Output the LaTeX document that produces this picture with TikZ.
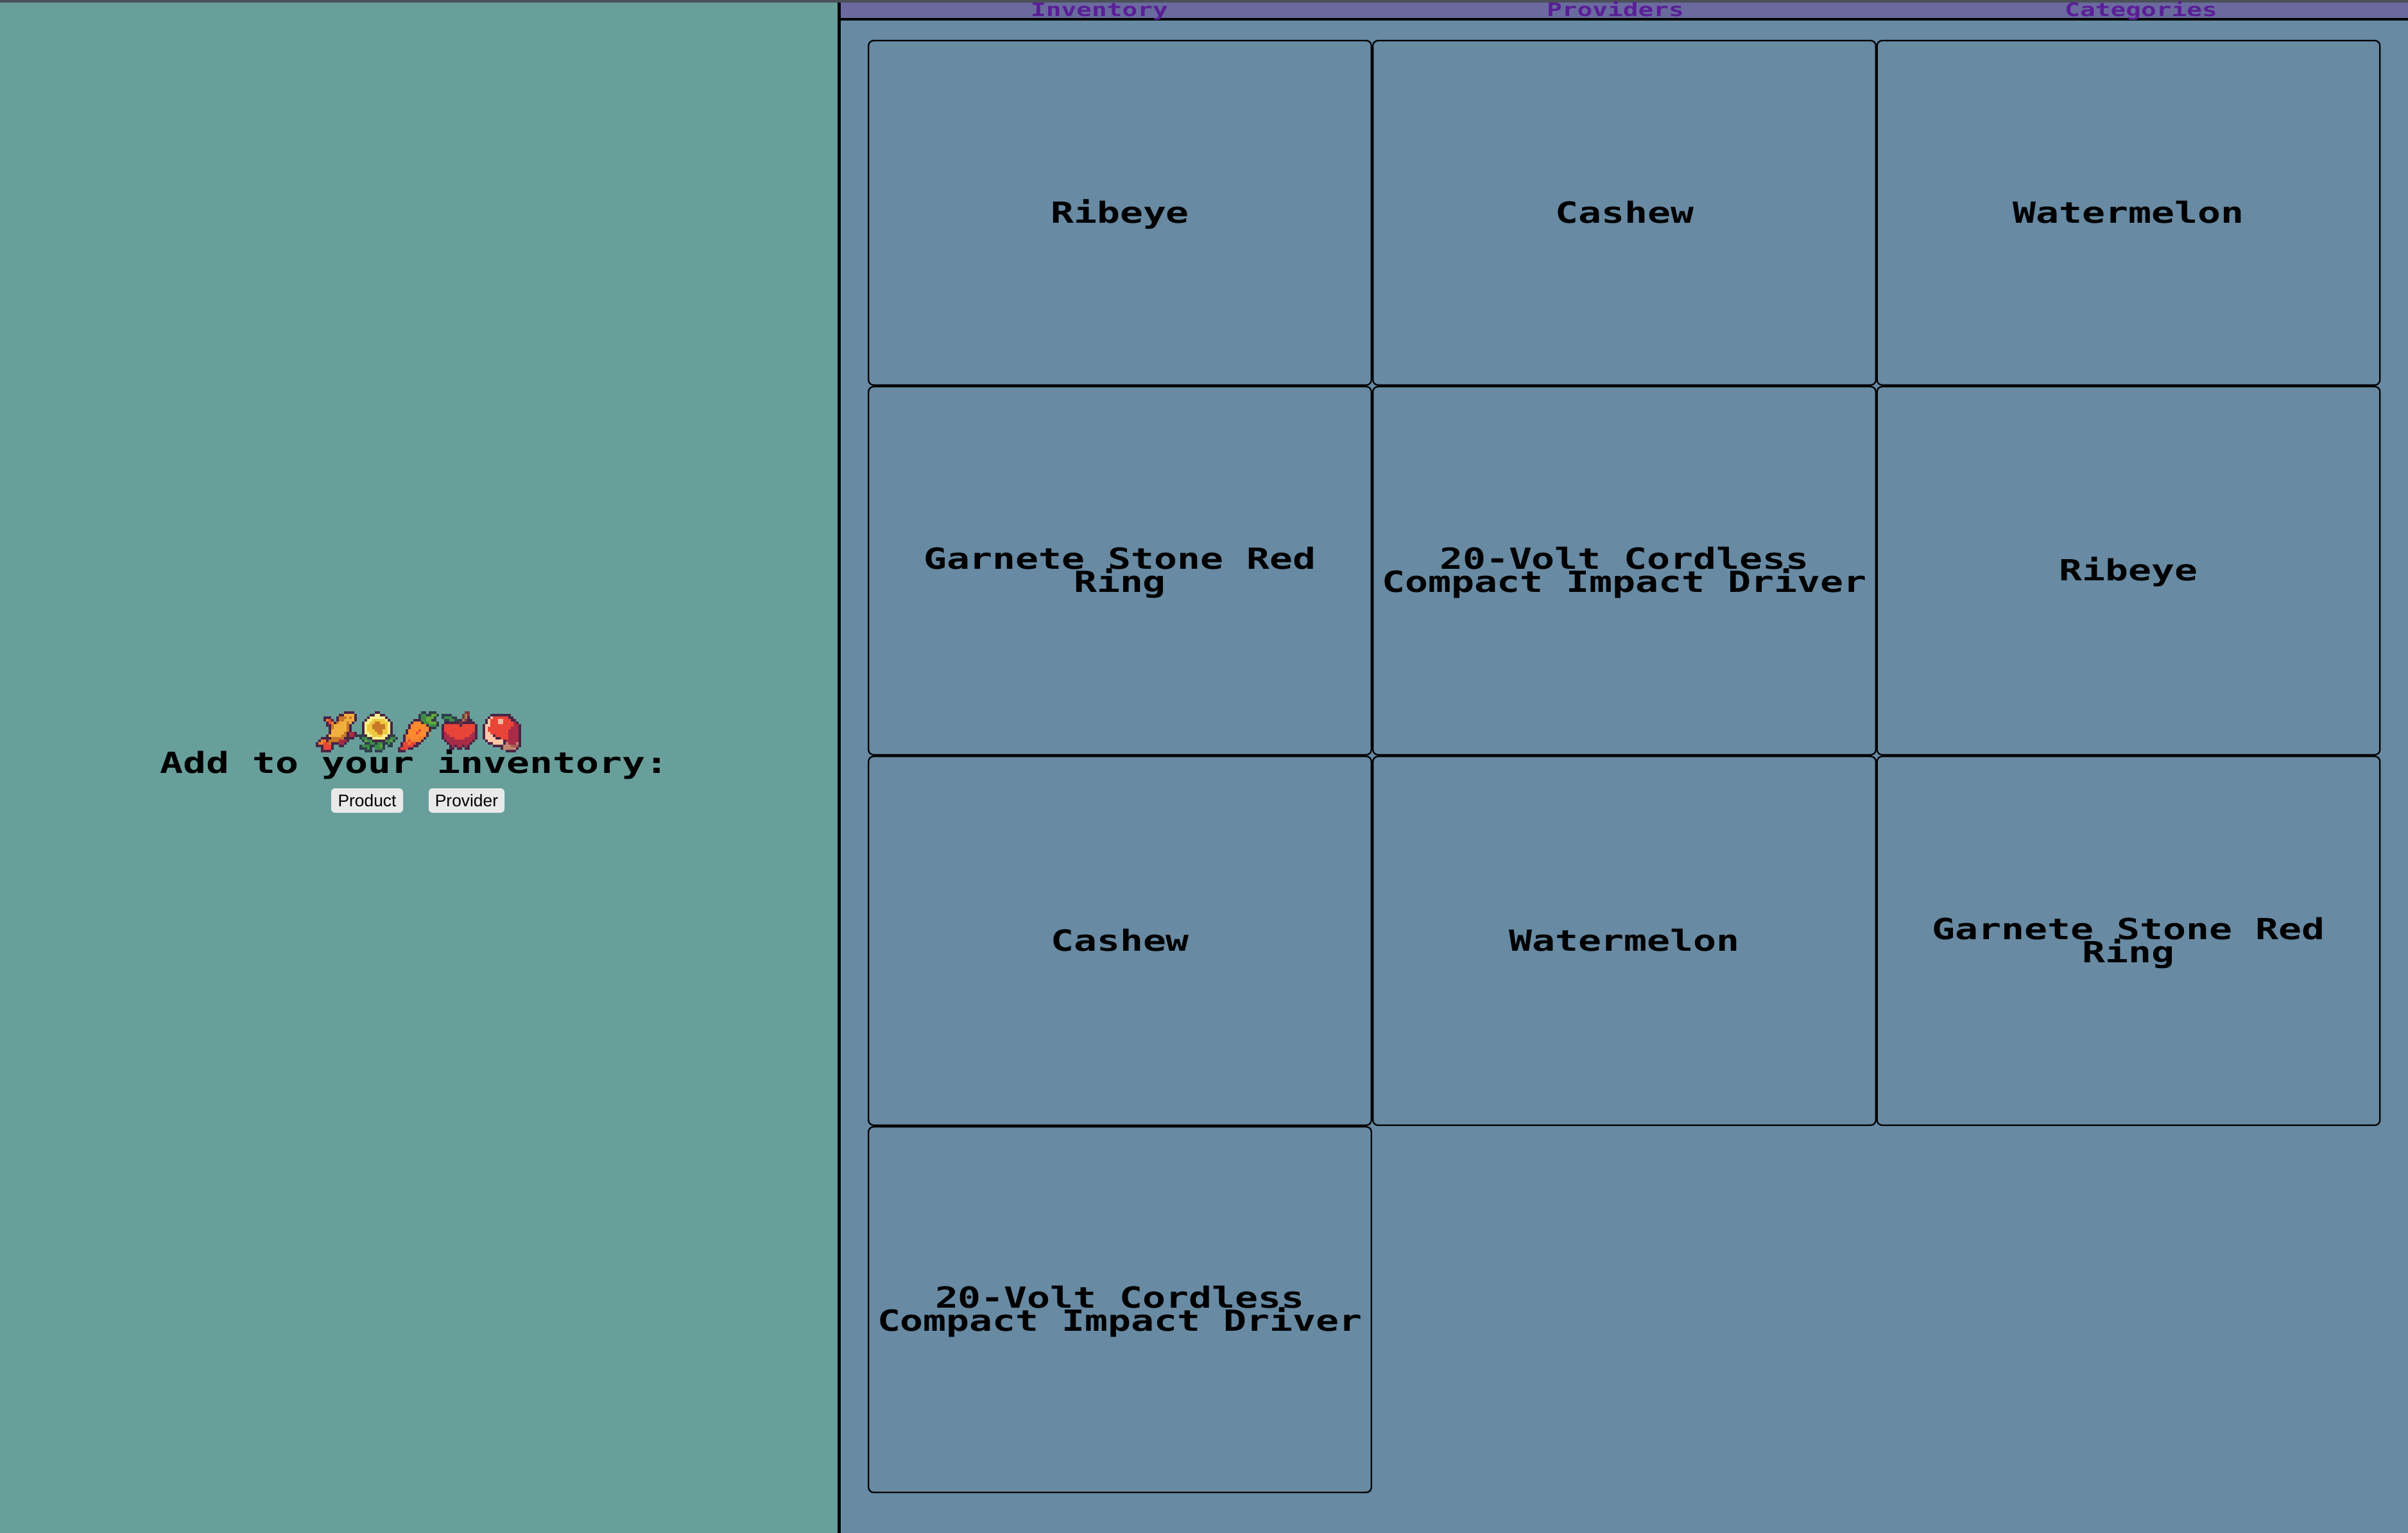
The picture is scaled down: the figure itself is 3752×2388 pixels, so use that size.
\documentclass[tikz,border=0pt]{standalone}
\usepackage{fontspec}
\setmainfont{Liberation Sans}
\newfontfamily\pixmain[FakeStretch=1.32]{DejaVu Sans Mono Bold}
\newfontfamily\pixhead[FakeStretch=1.37]{DejaVu Sans Mono Bold}
\definecolor{panelteal}{HTML}{689F9B}
\definecolor{panelblue}{HTML}{688AA3}
\definecolor{headerbar}{HTML}{6A6A9F}
\definecolor{headertext}{HTML}{5A1E96}
\definecolor{topband}{HTML}{4A5058}
\definecolor{buttonfill}{HTML}{E9E9E9}
\definecolor{sprD}{HTML}{4A2545}
\definecolor{sprT}{HTML}{2E3F4A}
\definecolor{sprO}{HTML}{F0B040}
\definecolor{spro}{HTML}{C87828}
\definecolor{sprR}{HTML}{E84538}
\definecolor{sprr}{HTML}{F08030}
\definecolor{sprM}{HTML}{A82C48}
\definecolor{sprY}{HTML}{F8F090}
\definecolor{spry}{HTML}{F0C840}
\definecolor{sprG}{HTML}{3E8948}
\definecolor{sprg}{HTML}{63A83C}
\definecolor{sprC}{HTML}{FE8A2E}
\definecolor{sprB}{HTML}{733E39}
\definecolor{sprb}{HTML}{B86F50}
\definecolor{sprP}{HTML}{FFC8A8}
\definecolor{sprL}{HTML}{F4B8A0}
\definecolor{sprS}{HTML}{C28570}
\definecolor{sprd}{HTML}{A05B53}
\newcount\pxc
\newcount\pyc
\def\prx#1{\ifx#1\relax\else\ifx#1.\else\fill[spr#1] (\the\numexpr\sprx+\pxc*4\relax,\the\numexpr\spry+\pyc*4\relax) rectangle ++(4.3,4.3);\fi\advance\pxc by 1 \expandafter\prx\fi}
\def\pr#1{\pxc=0 \prx#1\relax\advance\pyc by 1 }
\def\sprat#1#2{\def\sprx{#1}\def\spry{#2}\pyc=0 }
\def\cl#1{\rule[-0.3pt]{0pt}{6.9pt}\smash{#1}}
\tikzset{
  card/.style={draw=black,line width=0.46pt,rounded corners=1.6pt,fill=panelblue,inner sep=0pt,outer sep=0pt,
    minimum width=156.72pt,align=center,text=black,font=\pixmain\fontsize{9.06}{7.2}\selectfont},
  tab/.style={inner sep=0pt,outer sep=0pt,text=headertext,anchor=base,font=\pixhead\fontsize{5.76}{7}\selectfont},
  formbutton/.style={fill=buttonfill,rounded corners=1.2pt,inner sep=0pt,outer sep=0pt,minimum height=7.6pt,text=black,font=\fontsize{5.28}{6.3}\selectfont}
}
\begin{document}
\begin{tikzpicture}[x=0.2pt,y=-0.2pt]
\useasboundingbox (0,0) rectangle (3752,2388);
\fill[panelblue] (0,0) rectangle (3752,2388);
\fill[panelteal] (0,0) rectangle (1307,2388);
\fill[headerbar] (1307,0) rectangle (3752,28);
\fill[black] (1309,28) rectangle (3752,32);
\fill[topband] (0,0) rectangle (3752,4);
\fill[black] (1305,4) rectangle (1310,2388);
\node[tab] (tabinv) at (1713,25) {Inventory};
\node[tab] (tabprov) at (2517,25) {Providers};
\node[tab] (tabcat) at (3336,25) {Categories};
% cards
\node[card,minimum height=107.3pt] (c11) at (1745,331.5) {\cl{Ribeye}};
\node[card,minimum height=107.3pt] (c12) at (2531,331.5) {\cl{Cashew}};
\node[card,minimum height=107.3pt] (c13) at (3316.5,331.5) {\cl{Watermelon}};
\node[card,minimum height=114.7pt] (c21) at (1745,889) {\cl{Garnete Stone Red}\\\cl{Ring}};
\node[card,minimum height=114.7pt] (c22) at (2531,889) {\cl{20-Volt Cordless}\\\cl{Compact Impact Driver}};
\node[card,minimum height=114.7pt] (c23) at (3316.5,889) {\cl{Ribeye}};
\node[card,minimum height=114.9pt] (c31) at (1745,1465.5) {\cl{Cashew}};
\node[card,minimum height=114.9pt] (c32) at (2531,1465.5) {\cl{Watermelon}};
\node[card,minimum height=114.9pt] (c33) at (3316.5,1465.5) {\cl{Garnete Stone Red}\\\cl{Ring}};
\node[card,minimum height=113.9pt] (c41) at (1745,2040) {\cl{20-Volt Cordless}\\\cl{Compact Impact Driver}};
% left panel
\node[inner sep=0pt,outer sep=0pt,anchor=base,font=\pixmain\fontsize{9.06}{7.2}\selectfont] (addtitle) at (646,1204) {Add to your inventory:};
\node[formbutton,minimum width=22.4pt] (bproduct) at (572,1247) {Product};
\node[formbutton,minimum width=23.6pt] (bprovider) at (727,1247) {Provider};
% fish
\sprat{492}{1108}
\pr{...........DDDD.}
\pr{.........DDOOOOD}
\pr{...DDD..DoooOoOD}
\pr{...DrRD.DooOOOOD}
\pr{....DRrDoOOOoOD.}
\pr{....DDoOOOOOoD..}
\pr{.....DoOOOOOoD..}
\pr{.....DOOOOOOoD..}
\pr{.....DOOOOOoDMMD}
\pr{....DOOOOOooDMMD}
\pr{..DDDDoooooDDDD.}
\pr{.DrrDooooMMMD...}
\pr{DrrRRoDDDMMD....}
\pr{DDDRRRD..DD.....}
\pr{..DRRRD.........}
\pr{..DDDD..........}
% sunflower
\sprat{556}{1108}
\pr{.......DD.......}
\pr{.....DDYYDD.....}
\pr{....DYYYYYYD....}
\pr{...DYYyyyyyYD...}
\pr{..DYYyyooyyyYD..}
\pr{..DYyyoooooyYD..}
\pr{..DYyyoooooyYD..}
\pr{..DYyyyoooyyYD..}
\pr{..DYYyyyooyyYD..}
\pr{TTTDYYyyyyYYDTT.}
\pr{.TGGTDYYYYYDTGGT}
\pr{..TgGGDDDDDGGgT.}
\pr{...TTGGTGGTTGT..}
\pr{.TGGGTTGGgT.TT..}
\pr{.TTTGT.GGGT.....}
\pr{...TTT.TTT......}
% carrot
\sprat{620}{1108}
\pr{.........TT.TTT.}
\pr{........TGGTTggT}
\pr{........TGGgggT.}
\pr{......DDDGGggTT.}
\pr{.....DCCCDGGgggT}
\pr{....DCCCCCCDGGGT}
\pr{....DCCCCCCCDTT.}
\pr{...DCCCCRCCCD...}
\pr{...DCCCRCCCD....}
\pr{..DrCCCCCCCD....}
\pr{..DrrCCCrCD.....}
\pr{..DrRrrrrD......}
\pr{.DRRrRRDD.......}
\pr{.DRRRRDD........}
\pr{DRRRDD..........}
\pr{DDD.............}
% apple
\sprat{684}{1108}
\pr{..........BB....}
\pr{.TTTT....BbB....}
\pr{.TGGGTT..BbD....}
\pr{..TTGGTTDbBDD...}
\pr{..DDDDDDBDDDDD..}
\pr{.DRRRRRRDRRRRRD.}
\pr{.DRRRRRRRRRRRRD.}
\pr{.DRRRRRRRRRRRRD.}
\pr{.DMRRRRRRRRRRMD.}
\pr{.DMMRRRRRRRRMMD.}
\pr{.DMMMMRRRRMMMMD.}
\pr{..DMMMMMMMMMMD..}
\pr{...DMMMMMMMMD...}
\pr{....DMDMMDMD....}
\pr{....DD.DD.DD....}
\pr{................}
% meat
\sprat{748}{1108}
\pr{................}
\pr{....DDDDDDDD....}
\pr{...DPRRRRRRDD...}
\pr{..DPRRRLLRRRDD..}
\pr{..DPRRRLLRRRRMD.}
\pr{.DPPRRRRRRRRRMMD}
\pr{.DPRRRRRRRRRMMMD}
\pr{.DPRRRRRRRRMMMMD}
\pr{.DPPRRRRRRRMMMMD}
\pr{.DPPPDRRRRRMMMMD}
\pr{.DPPPPDDRRRMMMMD}
\pr{..DPPPPPPDMMMMMD}
\pr{...DDPPPPDSMMMSD}
\pr{.....DDDDSSSdddD}
\pr{........DSSSSSD.}
\pr{..........DDDD..}
\end{tikzpicture}
\end{document}
